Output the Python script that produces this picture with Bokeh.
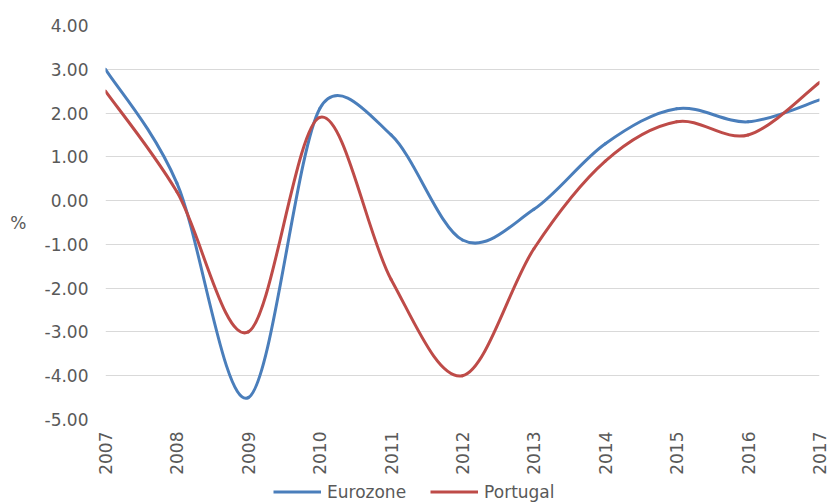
import numpy as np
from bokeh.plotting import figure
from bokeh.layouts import column
from bokeh.models import (Range1d, FixedTicker, NumeralTickFormatter, Legend,
                          LegendItem, ColumnDataSource)
from bokeh.embed import file_html
from bokeh.resources import INLINE
from math import pi

# ---- data ----
years = [2007, 2008, 2009, 2010, 2011, 2012, 2013, 2014, 2015, 2016, 2017]
eurozone = [3.0, 0.4, -4.5, 2.1, 1.5, -0.9, -0.2, 1.3, 2.1, 1.8, 2.3]
portugal = [2.5, 0.2, -3.0, 1.9, -1.8, -4.0, -1.1, 0.9, 1.8, 1.5, 2.7]
y_ticks = [-5, -4, -3, -2, -1, 0, 1, 2, 3, 4]
series_names = ["Eurozone", "Portugal"]
series_colors = ["#4A7EBB", "#BE4B48"]
y_label = "%"

FONT = "DejaVu Sans"
TEXT_COLOR = "#595959"

W = 829
H_MAIN, H_LEG = 481, 21
LEFT, RIGHT, TOP, BOTTOM = 105, 819, 25, 419   # frame edges in page pixels
PX_X = (RIGHT - LEFT) / (years[-1] - years[0])
PX_Y = (BOTTOM - TOP) / (y_ticks[-1] - y_ticks[0])


def smooth_segments(xs, ys):
    """Excel-style smoothed line: cubic Bezier segments with 1/6 tension,
    control-point offsets capped at half the segment length (screen pixels)."""
    P = np.column_stack([np.asarray(xs, float) * PX_X, np.asarray(ys, float) * PX_Y])
    n = len(P)
    out = {k: [] for k in ("x0", "y0", "x1", "y1", "cx0", "cy0", "cx1", "cy1")}
    for i in range(n - 1):
        p1, p2 = P[i], P[i + 1]
        p0 = P[i - 1] if i > 0 else p1
        p3 = P[i + 2] if i + 2 < n else p2
        d02 = np.linalg.norm(p2 - p0)
        d12 = np.linalg.norm(p2 - p1)
        d13 = np.linalg.norm(p3 - p1)
        f1 = min(1.0 / 6.0, d12 / (2.0 * d02)) if d02 > 0 else 0.0
        f2 = min(1.0 / 6.0, d12 / (2.0 * d13)) if d13 > 0 else 0.0
        c1 = p1 + (p2 - p0) * f1
        c2 = p2 - (p3 - p1) * f2
        for key, pt in (("0", p1), ("1", p2)):
            out["x" + key].append(pt[0] / PX_X)
            out["y" + key].append(pt[1] / PX_Y)
        out["cx0"].append(c1[0] / PX_X)
        out["cy0"].append(c1[1] / PX_Y)
        out["cx1"].append(c2[0] / PX_X)
        out["cy1"].append(c2[1] / PX_Y)
    return out


p = figure(width=W, height=H_MAIN, output_backend="svg", toolbar_location=None,
           x_range=Range1d(years[0], years[-1]),
           y_range=Range1d(y_ticks[0], y_ticks[-1]),
           min_border_left=LEFT, min_border_right=W - RIGHT,
           min_border_top=TOP, min_border_bottom=H_MAIN - BOTTOM)
p.outline_line_color = None
p.background_fill_color = "white"
p.border_fill_color = "white"

# axes
p.xaxis.ticker = FixedTicker(ticks=years)
p.yaxis.ticker = FixedTicker(ticks=y_ticks)
p.yaxis.formatter = NumeralTickFormatter(format="0.00")
for ax in (p.xaxis, p.yaxis):
    ax.axis_line_color = None
    ax.major_tick_line_color = None
    ax.minor_tick_line_color = None
    ax.major_tick_in = 0
    ax.major_tick_out = 0
    ax.major_label_text_font = FONT
    ax.major_label_text_font_size = "17px"
    ax.major_label_text_color = TEXT_COLOR
p.xaxis.major_label_orientation = pi / 2
p.xaxis.major_label_standoff = 12
p.yaxis.major_label_standoff = 17

yax = p.yaxis[0]
yax.axis_label = y_label
yax.axis_label_text_font = FONT
yax.axis_label_text_font_size = "17px"
yax.axis_label_text_font_style = "normal"
yax.axis_label_text_color = TEXT_COLOR
yax.axis_label_standoff = 15
if "axis_label_orientation" in yax.properties():
    yax.axis_label_orientation = "horizontal"

p.xgrid.grid_line_color = None
p.ygrid.grid_line_color = "#D9D9D9"
p.ygrid.grid_line_width = 1

# ---- legend strip below the chart ----
pl = figure(width=W, height=H_LEG, output_backend="svg", toolbar_location=None,
            x_range=Range1d(0, 1), y_range=Range1d(0, 1),
            min_border_left=0, min_border_right=0, min_border_top=0,
            min_border_bottom=0)
pl.axis.visible = False
pl.grid.visible = False
pl.outline_line_color = None
pl.background_fill_color = "white"
pl.border_fill_color = "white"

# series
items = []
for name, vals, col in zip(series_names, [eurozone, portugal], series_colors):
    src = ColumnDataSource(smooth_segments(years, vals))
    p.bezier(x0="x0", y0="y0", x1="x1", y1="y1", cx0="cx0", cy0="cy0",
             cx1="cx1", cy1="cy1", source=src, line_color=col, line_width=3,
             line_cap="round")
    legend_r = pl.line(years, vals, line_color=col, line_width=3, visible=False)
    items.append(LegendItem(label=name, renderers=[legend_r]))

legend = Legend(items=items, orientation="horizontal", location=(168, 0),
                glyph_width=48, glyph_height=H_LEG, label_standoff=6, spacing=24,
                padding=0, margin=0, border_line_color=None,
                background_fill_alpha=0, inactive_fill_alpha=0,
                label_text_font=FONT, label_text_font_size="17px",
                label_text_color=TEXT_COLOR)
pl.add_layout(legend)

layout = column(p, pl, spacing=0)
open("out.html", "w").write(file_html(layout, INLINE))
